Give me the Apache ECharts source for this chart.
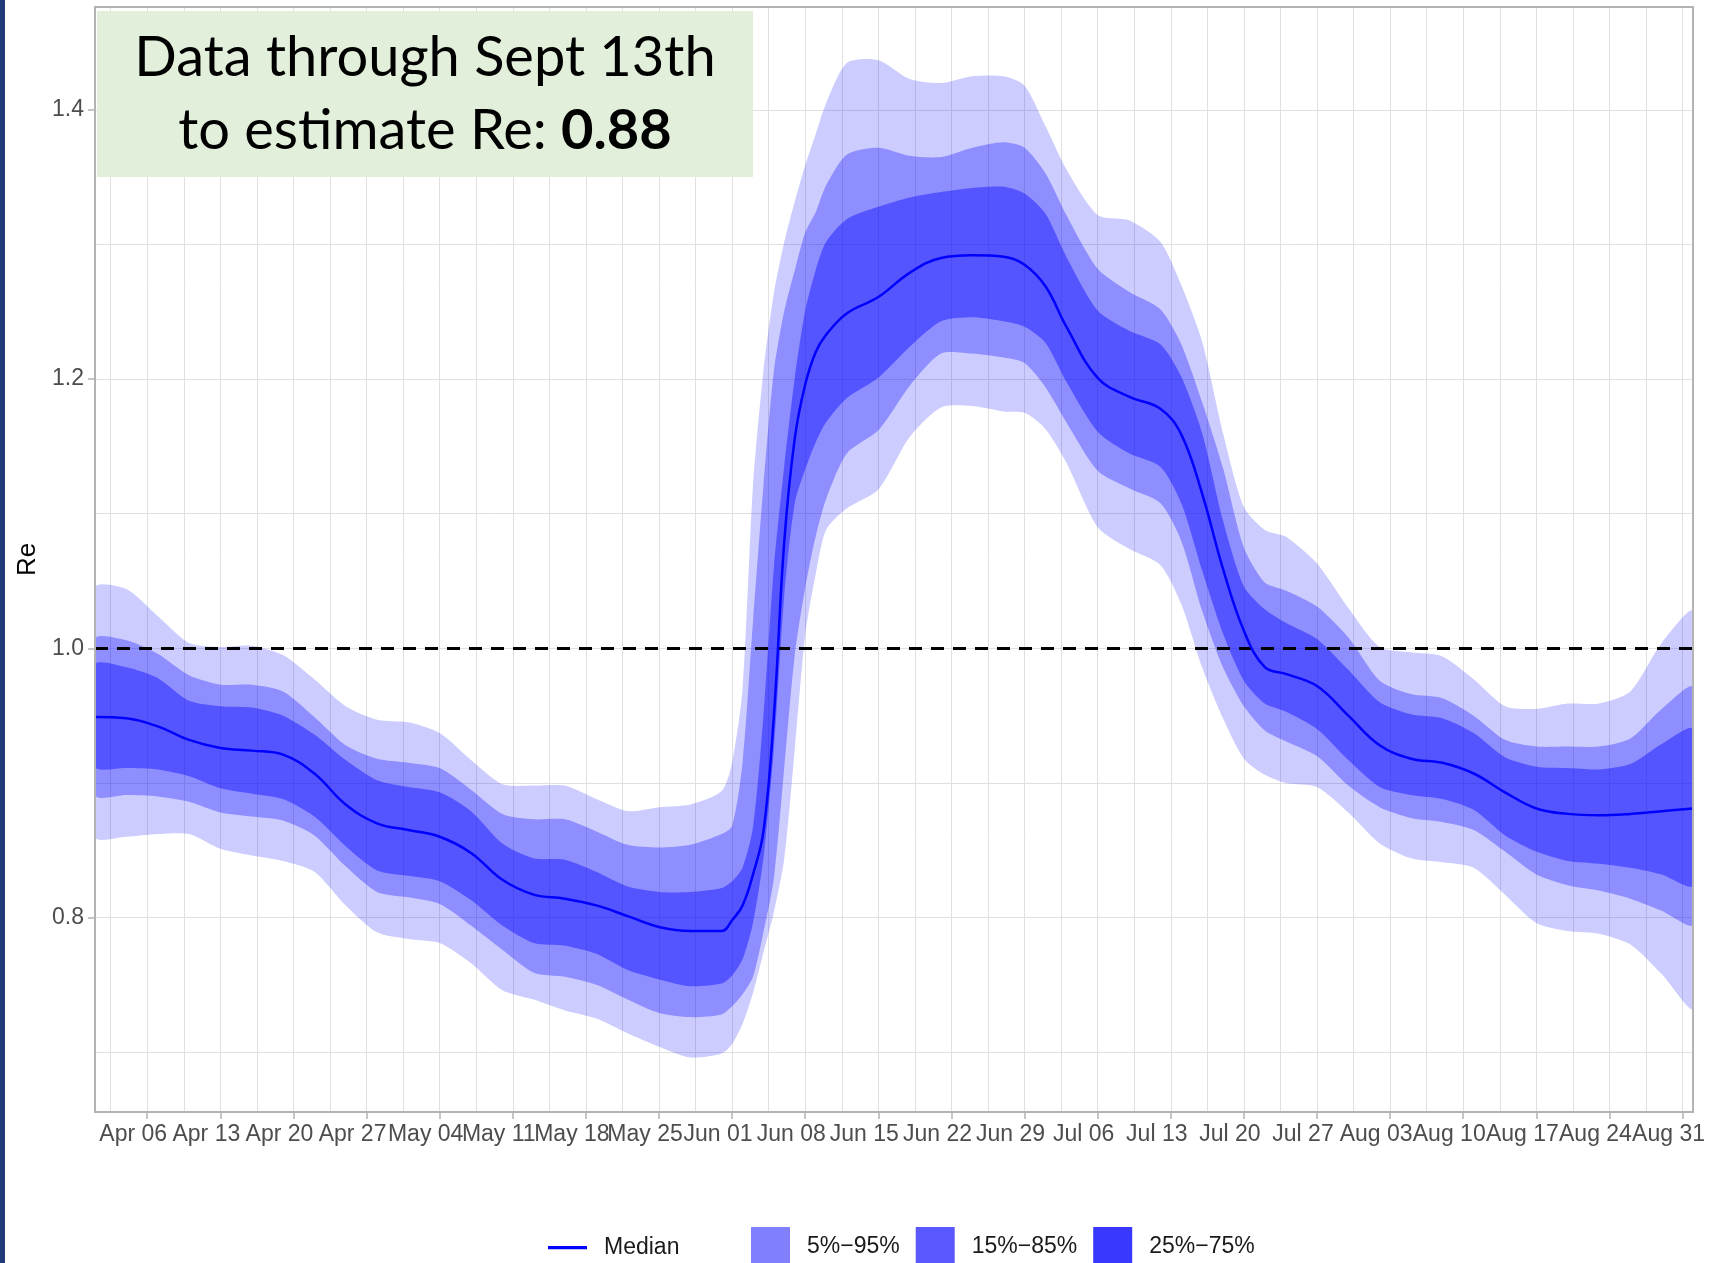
<!DOCTYPE html>
<html>
<head>
<meta charset="utf-8">
<title>Re estimate</title>
<script src="https://cdn.jsdelivr.net/npm/echarts@6/dist/echarts.min.js"></script>
<style>
  html, body { margin: 0; padding: 0; background: #fff; }
  #chart { width: 1711px; height: 1263px; }
</style>
</head>
<body>
<div id="chart"></div>
<script>
// x is days after Apr 01; axis runs Apr 01 .. Sep 01
var xMin = 0, xMax = 153;

var days = [0, 3, 6, 9, 12, 15, 18, 21, 24, 27, 30, 33, 36, 39, 42, 45, 48, 51, 54, 57, 60,
  61, 62, 63, 64, 65, 66, 67, 68, 69, 70, 72, 75, 78, 81, 84, 87, 89, 91, 93, 96, 99, 102,
  104, 106, 108, 110, 112, 114, 117, 120, 123, 126, 129, 132, 135, 138, 141, 144, 147, 150, 153];

var q95 = [1.045, 1.044, 1.024, 1.004, 1.001, 1.002, 0.995, 0.977, 0.957, 0.947, 0.945, 0.937, 0.917, 0.899,
  0.898, 0.898, 0.888, 0.879, 0.882, 0.884, 0.894,
  0.915, 0.970, 1.121, 1.206, 1.264, 1.302, 1.332, 1.359, 1.382, 1.405,
  1.435, 1.437, 1.423, 1.420, 1.425, 1.425,
  1.418, 1.388, 1.356,
  1.322, 1.318, 1.302,
  1.270, 1.228, 1.160, 1.105, 1.088, 1.083,
  1.063, 1.030, 1.001, 0.997, 0.994, 0.977, 0.957, 0.955, 0.959, 0.959, 0.968, 1.004, 1.027];

var q85 = [1.007, 1.006, 0.996, 0.980, 0.973, 0.973, 0.968, 0.949, 0.928, 0.918, 0.915, 0.911, 0.895, 0.877,
  0.873, 0.873, 0.864, 0.854, 0.852, 0.854, 0.862,
  0.868, 0.915, 1.020, 1.121, 1.206, 1.251, 1.281, 1.309, 1.324, 1.344,
  1.367, 1.372, 1.366, 1.365, 1.372, 1.376,
  1.372, 1.353, 1.322,
  1.282, 1.265, 1.252,
  1.226, 1.183, 1.134, 1.075, 1.049, 1.043,
  1.031, 1.008, 0.976, 0.966, 0.963, 0.950, 0.932, 0.927, 0.927, 0.927, 0.933, 0.955, 0.971];

var q75 = [0.988, 0.986, 0.978, 0.961, 0.957, 0.956, 0.950, 0.936, 0.917, 0.902, 0.897, 0.893, 0.879, 0.855,
  0.844, 0.843, 0.834, 0.823, 0.819, 0.819, 0.822,
  0.827, 0.837, 0.867, 0.950, 1.060, 1.136, 1.201, 1.251, 1.281, 1.302,
  1.319, 1.328, 1.335, 1.339, 1.342, 1.343,
  1.338, 1.323, 1.291,
  1.251, 1.236, 1.226,
  1.202, 1.160, 1.095, 1.046, 1.029, 1.019,
  1.007, 0.984, 0.960, 0.951, 0.948, 0.937, 0.919, 0.912, 0.911, 0.910, 0.914, 0.929, 0.940];

var median = [0.949, 0.948, 0.942, 0.932, 0.926, 0.924, 0.921, 0.907, 0.884, 0.870, 0.865, 0.860, 0.848, 0.828,
  0.817, 0.814, 0.809, 0.801, 0.793, 0.790, 0.790,
  0.798, 0.809, 0.832, 0.864, 0.950, 1.080, 1.156, 1.196, 1.220, 1.233,
  1.249, 1.261, 1.279, 1.290, 1.292, 1.291,
  1.285, 1.269, 1.239,
  1.201, 1.187, 1.178,
  1.159, 1.115, 1.059, 1.013, 0.986, 0.981,
  0.972, 0.950, 0.928, 0.918, 0.915, 0.907, 0.893, 0.881, 0.877, 0.876, 0.877, 0.879, 0.881];

var q25 = [0.912, 0.911, 0.910, 0.905, 0.896, 0.892, 0.888, 0.875, 0.853, 0.835, 0.831, 0.827, 0.813, 0.794,
  0.781, 0.779, 0.773, 0.761, 0.754, 0.749, 0.751,
  0.757, 0.769, 0.796, 0.844, 0.925, 1.040, 1.108, 1.133, 1.153, 1.168,
  1.186, 1.201, 1.224, 1.243, 1.246, 1.243,
  1.239, 1.227, 1.198,
  1.161, 1.145, 1.135,
  1.108, 1.058, 1.011, 0.976, 0.959, 0.953,
  0.940, 0.917, 0.897, 0.891, 0.888, 0.880, 0.861, 0.849, 0.842, 0.840, 0.837, 0.832, 0.824];

var q15 = [0.891, 0.891, 0.890, 0.886, 0.878, 0.875, 0.872, 0.861, 0.838, 0.819, 0.815, 0.810, 0.794, 0.776,
  0.759, 0.756, 0.750, 0.739, 0.729, 0.726, 0.728,
  0.734, 0.743, 0.756, 0.789, 0.829, 0.912, 0.995, 1.045, 1.083, 1.111,
  1.145, 1.162, 1.195, 1.219, 1.219, 1.216,
  1.212, 1.194, 1.168,
  1.132, 1.119, 1.108,
  1.080, 1.028, 0.986, 0.957, 0.939, 0.931,
  0.920, 0.898, 0.882, 0.874, 0.871, 0.865, 0.849, 0.832, 0.824, 0.820, 0.814, 0.805, 0.795];

var q05 = [0.860, 0.860, 0.862, 0.862, 0.851, 0.846, 0.842, 0.834, 0.809, 0.789, 0.784, 0.781, 0.766, 0.746,
  0.739, 0.731, 0.725, 0.714, 0.704, 0.696, 0.699,
  0.706, 0.721, 0.744, 0.774, 0.804, 0.844, 0.925, 1.010, 1.055, 1.088,
  1.104, 1.118, 1.157, 1.179, 1.180, 1.176,
  1.175, 1.163, 1.138,
  1.090, 1.074, 1.062,
  1.033, 0.986, 0.948, 0.918, 0.906, 0.900,
  0.897, 0.878, 0.855, 0.844, 0.841, 0.837, 0.817, 0.796, 0.790, 0.788, 0.780, 0.758, 0.733];

var tickDays = [5, 12, 19, 26, 33, 40, 47, 54, 61, 68, 75, 82, 89, 96, 103, 110, 117, 124, 131, 138, 145, 152];
var tickLabels = ['Apr 06', 'Apr 13', 'Apr 20', 'Apr 27', 'May 04', 'May 11', 'May 18', 'May 25',
  'Jun 01', 'Jun 08', 'Jun 15', 'Jun 22', 'Jun 29', 'Jul 06', 'Jul 13', 'Jul 20', 'Jul 27',
  'Aug 03', 'Aug 10', 'Aug 17', 'Aug 24', 'Aug 31'];
var minorDays = [1.5, 8.5, 15.5, 22.5, 29.5, 36.5, 43.5, 50.5, 57.5, 64.5, 71.5, 78.5, 85.5,
  92.5, 99.5, 106.5, 113.5, 120.5, 127.5, 134.5, 141.5, 148.5];
var yMin = 0.6555, yMax = 1.4765;
var yTicks = [0.8, 1.0, 1.2, 1.4];
var yMinor = [0.7, 0.9, 1.1, 1.3];

var bandNames = ['5%\u221295%', '15%\u221285%', '25%\u221275%'];

var FONT = "'Liberation Sans', Arial, sans-serif";
var gridColor = '#e0e0e0';
var borderColor = '#b3b3b3';

function rows(lo, hi) {
  return days.map(function(d, i) { return [d, lo[i], hi[i]]; });
}

// one filled polygon per band, built from every row through the axis scales
function bandSeries(name, lo, hi, fill, z) {
  return {
    name: name,
    type: 'custom',
    silent: true,
    clip: true,
    z: z,
    itemStyle: { color: fill },
    encode: { x: 0, y: [1, 2] },
    data: rows(lo, hi),
    renderItem: function(params, api) {
      if (params.dataIndexInside !== 0) return null;
      var n = params.dataInsideLength;
      var top = [], bottom = [];
      for (var i = 0; i < n; i++) {
        var x = api.value(0, i);
        top.push(api.coord([x, api.value(2, i)]));
        bottom.push(api.coord([x, api.value(1, i)]));
      }
      return {
        type: 'polygon',
        shape: { points: top.concat(bottom.reverse()), smooth: 0.25 },
        style: { fill: fill }
      };
    }
  };
}

var series = [
  bandSeries(bandNames[0], q05, q95, 'rgba(0,0,255,0.2)', 2),
  bandSeries(bandNames[1], q15, q85, 'rgba(0,0,255,0.3)', 3),
  bandSeries(bandNames[2], q25, q75, 'rgba(0,0,255,0.4)', 4),
  {
    name: 'Median',
    type: 'line',
    data: days.map(function(d, i) { return [d, median[i]]; }),
    symbol: 'none',
    smooth: 0.4,
    silent: true,
    emphasis: { disabled: true },
    lineStyle: { color: '#0000ff', width: 2.5 },
    itemStyle: { color: '#0000ff' },
    z: 5,
    markLine: {
      silent: true,
      symbol: ['none', 'none'],
      label: { show: false },
      lineStyle: { color: '#000', width: 3, type: [13, 9] },
      data: [{ yAxis: 1.0 }]
    }
  }
];

var legendText = { fontFamily: FONT, fontSize: 23, color: '#1a1a1a', padding: [6, 0, 0, 12] };

var chart = echarts.init(document.getElementById('chart'), null, { renderer: 'canvas' });
chart.setOption({
  animation: false,
  backgroundColor: '#fff',
  grid: { left: 95, top: 7, width: 1598, height: 1105 },
  xAxis: [{
    type: 'value',
    min: xMin, max: xMax,
    axisLine: { show: false },
    axisTick: { show: true, length: 7, lineStyle: { color: borderColor, width: 1.5 }, customValues: tickDays },
    axisLabel: {
      customValues: tickDays,
      fontFamily: FONT, fontSize: 23, color: '#4d4d4d', margin: 11,
      padding: [0, 28, 0, 0],
      formatter: function(v) {
        var i = tickDays.indexOf(v);
        return i >= 0 ? tickLabels[i] : '';
      }
    },
    splitLine: { show: true, lineStyle: { color: gridColor, width: 1 } }
  }, {
    type: 'value',
    min: xMin, max: xMax,
    position: 'bottom',
    axisLine: { show: false },
    axisTick: { show: false, customValues: minorDays },
    axisLabel: { show: false, customValues: minorDays },
    splitLine: { show: true, lineStyle: { color: gridColor, width: 1 } }
  }],
  yAxis: [{
    type: 'value',
    min: yMin, max: yMax,
    name: 'Re',
    nameLocation: 'middle',
    nameRotate: 90,
    nameGap: 54,
    nameTextStyle: { fontFamily: FONT, fontSize: 26, color: '#000' },
    axisLine: { show: false },
    axisTick: { show: true, length: 7, lineStyle: { color: borderColor, width: 1.5 }, customValues: yTicks },
    axisLabel: {
      customValues: yTicks,
      fontFamily: FONT, fontSize: 23, color: '#4d4d4d', margin: 11,
      formatter: function(v) { return v.toFixed(1); }
    },
    splitLine: { show: true, lineStyle: { color: gridColor, width: 1 } }
  }, {
    type: 'value',
    min: yMin, max: yMax,
    axisLine: { show: false },
    axisTick: { show: false, customValues: yMinor },
    axisLabel: { show: false, customValues: yMinor },
    splitLine: { show: true, lineStyle: { color: gridColor, width: 1 } }
  }],
  legend: [{
    left: 548, top: 1236,
    padding: 0,
    itemWidth: 39, itemHeight: 40,
    selectedMode: false,
    textStyle: legendText,
    data: [
      { name: 'Median', icon: 'path://M0 0H36V3H0Z', itemStyle: { color: '#0000ff' } }
    ]
  }, {
    left: 751, top: 1227,
    padding: 0,
    itemWidth: 39, itemHeight: 40, itemGap: 16,
    selectedMode: false,
    textStyle: legendText,
    data: [
      { name: bandNames[0], icon: 'rect', itemStyle: { color: '#8080ff' } },
      { name: bandNames[1], icon: 'rect', itemStyle: { color: '#5959ff' } },
      { name: bandNames[2], icon: 'rect', itemStyle: { color: '#3838ff' } }
    ]
  }],
  graphic: [
    { type: 'rect', silent: true, z: 100, shape: { x: 0, y: 0, width: 5, height: 1263 }, style: { fill: '#22397a' } },
    { type: 'rect', silent: true, z: 100, shape: { x: 95, y: 7, width: 1598, height: 1105 },
      style: { fill: null, stroke: borderColor, lineWidth: 2 } },
    { type: 'rect', silent: true, z: 101, shape: { x: 97, y: 11, width: 656, height: 166 }, style: { fill: '#e2efda' } },
    { type: 'text', silent: true, z: 102, x: 425, y: 58,
      style: { text: 'Data through Sept 13th', fontFamily: 'Lato', fontSize: 56, fill: '#000',
        align: 'center', verticalAlign: 'middle' } },
    { type: 'text', silent: true, z: 102, x: 425, y: 131,
      style: { text: 'to estimate Re: {b|0.88}', fontFamily: 'Lato', fontSize: 56, fill: '#000',
        align: 'center', verticalAlign: 'middle',
        rich: { b: { fontFamily: 'Lato', fontSize: 56, fontWeight: 'bold', fill: '#000' } } } }
  ],
  series: series
});
window.addEventListener('resize', function() { chart.resize(); });
</script>
</body>
</html>
